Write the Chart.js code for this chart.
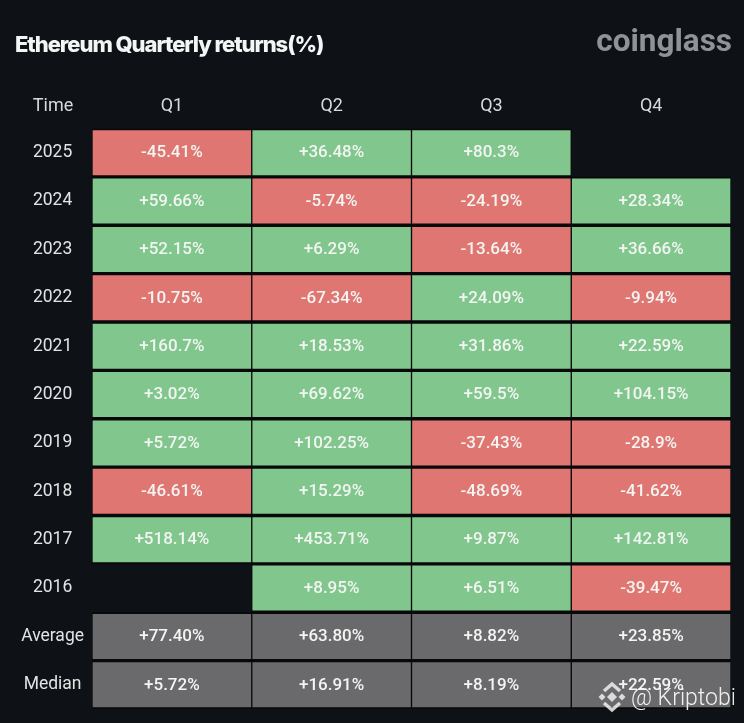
<!DOCTYPE html>
<html>
<head>
<meta charset="utf-8">
<title>Ethereum Quarterly returns(%)</title>
<script src="https://cdn.jsdelivr.net/npm/chart.js@4"></script>
<style>
  html, body { margin: 0; padding: 0; background: #0e1116; }
  canvas { display: block; }
</style>
</head>
<body>
<canvas id="returnsChart" width="744" height="723"></canvas>
<script>
// row and column labels
const quarters = ["Q1", "Q2", "Q3", "Q4"];
const years = ["2025", "2024", "2023", "2022", "2021", "2020", "2019", "2018", "2017", "2016"];
const summaryLabels = ["Average", "Median"];

// returns per quarter, same order as years (null = no data)
const q1Returns = [-45.41, 59.66, 52.15, -10.75, 160.7, 3.02, 5.72, -46.61, 518.14, null];
const q2Returns = [36.48, -5.74, 6.29, -67.34, 18.53, 69.62, 102.25, 15.29, 453.71, 8.95];
const q3Returns = [80.3, -24.19, -13.64, 24.09, 31.86, 59.5, -37.43, -48.69, 9.87, 6.51];
const q4Returns = [null, 28.34, 36.66, -9.94, 22.59, 104.15, -28.9, -41.62, 142.81, -39.47];

const averages = [77.40, 63.80, 8.82, 23.85];
const medians = [5.72, 16.91, 8.19, 22.59];

const GREEN = "#80c68d";
const RED = "#e07672";
const GREY = "#6a6a6c";
const GAP = "#08090b";

const rowLabels = years.concat(summaryLabels);
const quarterReturns = [q1Returns, q2Returns, q3Returns, q4Returns];

function signed(v, text) {
  return (v >= 0 ? "+" : "") + text + "%";
}

// text of every cell, in the same order as the bars of a dataset
function cellTexts(returns, q) {
  let texts = returns.map(v => v === null ? "" : signed(v, String(v)));
  texts.push(signed(averages[q], averages[q].toFixed(2)));
  texts.push(signed(medians[q], medians[q].toFixed(2)));
  return texts;
}

function cellColors(returns) {
  let colors = returns.map(v => v === null ? "transparent" : (v >= 0 ? GREEN : RED));
  return colors.concat([GREY, GREY]);
}

const datasets = quarterReturns.map((returns, q) => ({
  label: quarters[q],
  // every cell is one unit wide on the stacked axis, colour and text carry the return
  data: rowLabels.map(() => 1),
  texts: cellTexts(returns, q),
  backgroundColor: cellColors(returns),
  borderColor: cellColors(returns).map(c => c === "transparent" ? "transparent" : GAP),
  borderWidth: { left: 1, right: 1, top: 2, bottom: 2 },
  borderSkipped: false,
  categoryPercentage: 1,
  barPercentage: 1
}));

const cellLabels = {
  id: "cellLabels",
  afterDatasetsDraw(chart) {
    let ctx = chart.ctx;
    ctx.save();
    ctx.font = "500 17px Roboto";
    ctx.fillStyle = "#f2f5f2";
    ctx.textAlign = "center";
    ctx.textBaseline = "middle";
    chart.data.datasets.forEach((ds, i) => {
      chart.getDatasetMeta(i).data.forEach((bar, j) => {
        let c = bar.getCenterPoint();
        ctx.fillText(ds.texts[j], c.x, c.y + 0.5);
      });
    });
    ctx.restore();
  }
};

// things around the table: title, Time header, logo text and the watermark
const extras = {
  id: "extras",
  afterDraw(chart) {
    let ctx = chart.ctx;
    ctx.save();
    ctx.textBaseline = "alphabetic";

    ctx.font = "800 22px Inter";
    ctx.fillStyle = "#f4f6f6";
    ctx.textAlign = "left";
    ctx.letterSpacing = "-1.07px";
    ctx.fillText("Ethereum Quarterly returns(%)", 15, 51.5);
    ctx.letterSpacing = "0px";

    ctx.font = "400 18px Roboto";
    ctx.fillStyle = "#d8dbdc";
    ctx.textAlign = "center";
    ctx.fillText("Time", 53, 111);

    ctx.font = "700 31.5px Roboto";
    ctx.fillStyle = "#909296";
    ctx.textAlign = "right";
    ctx.fillText("coinglass", 732, 51);

    ctx.font = "300 23px Roboto";
    ctx.fillStyle = "rgba(255,255,255,0.9)";
    ctx.textAlign = "left";
    ctx.fillText("@ Kriptobi", 631, 705);

    // little diamond logo of the watermark
    ctx.fillStyle = "rgba(235,235,235,0.88)";
    [[612, 697, 5], [602, 697, 3.5], [622, 697, 3.5]].forEach(d => {
      ctx.beginPath();
      ctx.moveTo(d[0] - d[2], d[1]);
      ctx.lineTo(d[0], d[1] - d[2]);
      ctx.lineTo(d[0] + d[2], d[1]);
      ctx.lineTo(d[0], d[1] + d[2]);
      ctx.fill();
    });
    ctx.strokeStyle = "rgba(235,235,235,0.88)";
    ctx.lineWidth = 3.5;
    ctx.beginPath();
    ctx.moveTo(604, 691); ctx.lineTo(612, 684); ctx.lineTo(620, 691);
    ctx.moveTo(604, 703); ctx.lineTo(612, 710); ctx.lineTo(620, 703);
    ctx.stroke();
    ctx.restore();
  }
};

new Chart(document.getElementById("returnsChart").getContext("2d"), {
  type: "bar",
  data: { labels: rowLabels, datasets: datasets },
  plugins: [cellLabels, extras],
  options: {
    indexAxis: "y",
    responsive: false,
    animation: false,
    devicePixelRatio: 1,
    layout: { padding: { left: 14, right: 13, top: 57, bottom: 14 } },
    scales: {
      x: { stacked: true, min: 0, max: 4, display: false },
      quarterAxis: {
        type: "category",
        axis: "x",
        position: "top",
        labels: quarters,
        offset: true,
        grid: { display: false },
        border: { display: false },
        ticks: { color: "#d8dbdc", font: { family: "Roboto", size: 18 }, padding: 3.5, maxRotation: 0 },
        afterFit(scale) { scale.height = 71.5; }
      },
      y: {
        stacked: true,
        grid: { display: false },
        border: { display: false },
        ticks: { color: "#e2e4e4", crossAlign: "center", font: { family: "Roboto", size: 17.5 }, padding: 0 },
        afterFit(scale) { scale.width = 78; }
      }
    },
    plugins: {
      legend: { display: false },
      tooltip: { enabled: false },
      title: { display: false }
    }
  }
});
</script>
</body>
</html>
